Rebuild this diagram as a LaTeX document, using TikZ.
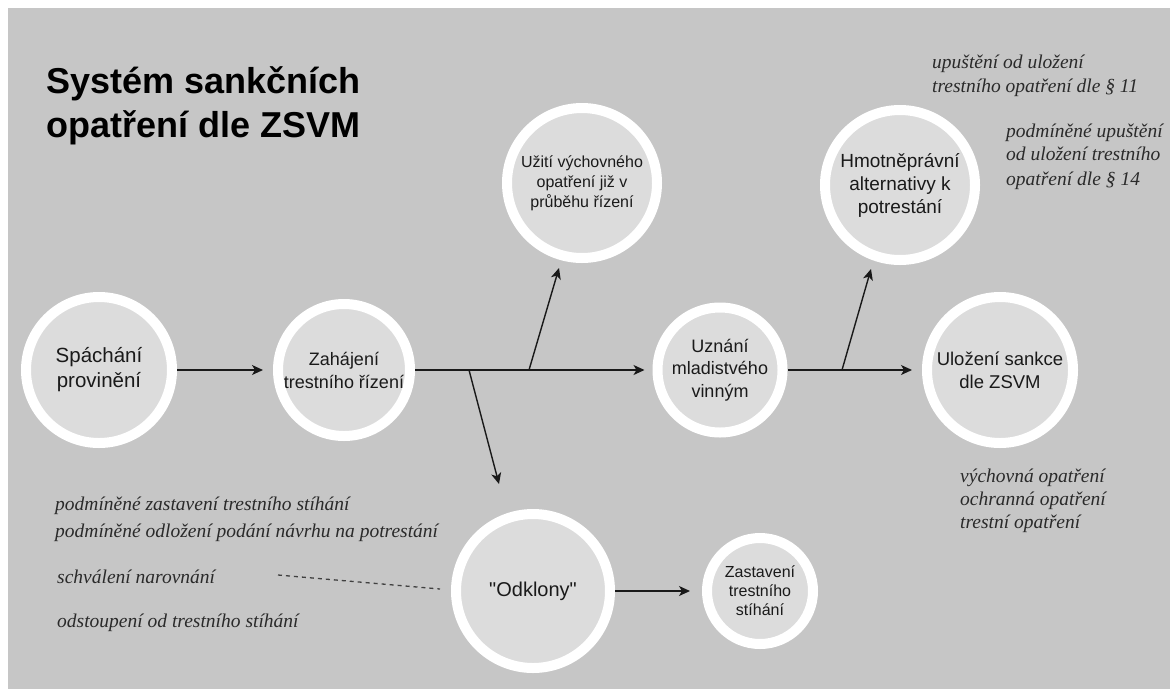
\documentclass[tikz,border=0pt]{standalone}
\usepackage{fontspec}
\newfontfamily\arialf{Liberation Sans}
\newfontfamily\timesf{Liberation Serif}
\usetikzlibrary{arrows.meta}
\definecolor{bggray}{HTML}{C6C6C6}
\definecolor{ingray}{HTML}{DCDCDC}
\definecolor{txtdark}{HTML}{1A1A1A}
\definecolor{ittext}{HTML}{2A2A2A}
\begin{document}
\begin{tikzpicture}[x=1pt,y=-1pt,
  circ/.style={circle, fill=ingray, draw=white, line width=10pt, inner sep=0pt, align=center, text=txtdark},
  arr/.style={-{Stealth[length=11pt,width=10pt,inset=3pt]}, line width=1.4pt, draw=black!90},
  itx/.style={anchor=base west, inner sep=0pt, text=ittext, font=\timesf\itshape\fontsize{19.5}{23}\selectfont},
  ttl/.style={anchor=base west, inner sep=0pt, text=black, font=\arialf\bfseries\fontsize{36}{44}\selectfont},
  dsh/.style={dash pattern=on 4pt off 4pt, line width=1.3pt, draw=black!75}]
\useasboundingbox (0,0) rectangle (1170,689);
\fill[white] (0,0) rectangle (1170,689);
\fill[bggray] (8,8) rectangle (1170,689);

% title
\node[ttl] (title1) at (46,93) {Systém sankčních};
\node[ttl] (title2) at (46,137) {opatření dle ZSVM};

% circles
\node[circ, minimum size=146pt, font=\arialf\fontsize{20.5}{25}\selectfont] (sp) at (99,370) {Spáchání\\provinění};
\node[circ, minimum size=132pt, font=\arialf\fontsize{18}{23}\selectfont] (zah) at (344,370) {Zahájení\\trestního řízení};
\node[circ, minimum size=150pt, font=\arialf\fontsize{16}{20}\selectfont] (uzi) at (582,183) {Užití výchovného\\opatření již v\\průběhu řízení};
\node[circ, minimum size=125pt, font=\arialf\fontsize{18}{22.5}\selectfont] (uzn) at (720,370) {Uznání\\mladistvého\\vinným};
\node[circ, minimum size=146pt, font=\arialf\fontsize{18.5}{23}\selectfont] (ulo) at (1000,370) {Uložení sankce\\dle ZSVM};
\node[circ, minimum size=150pt, font=\arialf\fontsize{19}{23}\selectfont] (hmo) at (900,185) {Hmotněprávní\\alternativy k\\potrestání};
\node[circ, minimum size=154pt, font=\arialf\fontsize{20}{24}\selectfont] (odk) at (533,591) {"Odklony"};
\node[circ, minimum size=106pt, font=\arialf\fontsize{16}{19}\selectfont] (zas) at (760,591) {Zastavení\\trestního\\stíhání};

% connectors
\coordinate (b1) at (469,370);
\coordinate (b2) at (529,370);
\coordinate (b3) at (842,370);
\coordinate (t1) at (499,484);
\coordinate (t2) at (559,268);
\coordinate (t3) at (871,269);
\draw[arr, shorten >=10pt] (sp) -- (zah);
\draw[arr, shorten >=8pt] (zah) -- (uzn);
\draw[arr] (b1) -- (t1);
\draw[arr] (b2) -- (t2);
\draw[arr, shorten >=10pt] (uzn) -- (ulo);
\draw[arr] (b3) -- (t3);
\draw[arr, shorten >=12pt] (odk) -- (zas);

\coordinate (d1) at (278,575);
\coordinate (d2) at (440,589);
\draw[dsh] (d1) -- (d2);

% italic texts
\node[itx] (l1) at (55,510) {podmíněné zastavení trestního stíhání};
\node[itx] (l2) at (55,537) {podmíněné odložení podání návrhu na potrestání};
\node[itx] (l3) at (57,583) {schválení narovnání};
\node[itx] (l4) at (57,627) {odstoupení od trestního stíhání};
\node[itx] (r1) at (932,68) {upuštění od uložení};
\node[itx] (r2) at (932,92) {trestního opatření dle § 11};
\node[itx] (r3) at (1006,137) {podmíněné upuštění};
\node[itx] (r4) at (1006,160) {od uložení trestního};
\node[itx] (r5) at (1006,185) {opatření dle § 14};
\node[itx] (s1) at (960,482) {výchovná opatření};
\node[itx] (s2) at (960,505) {ochranná opatření};
\node[itx] (s3) at (960,528) {trestní opatření};
\end{tikzpicture}
\end{document}
